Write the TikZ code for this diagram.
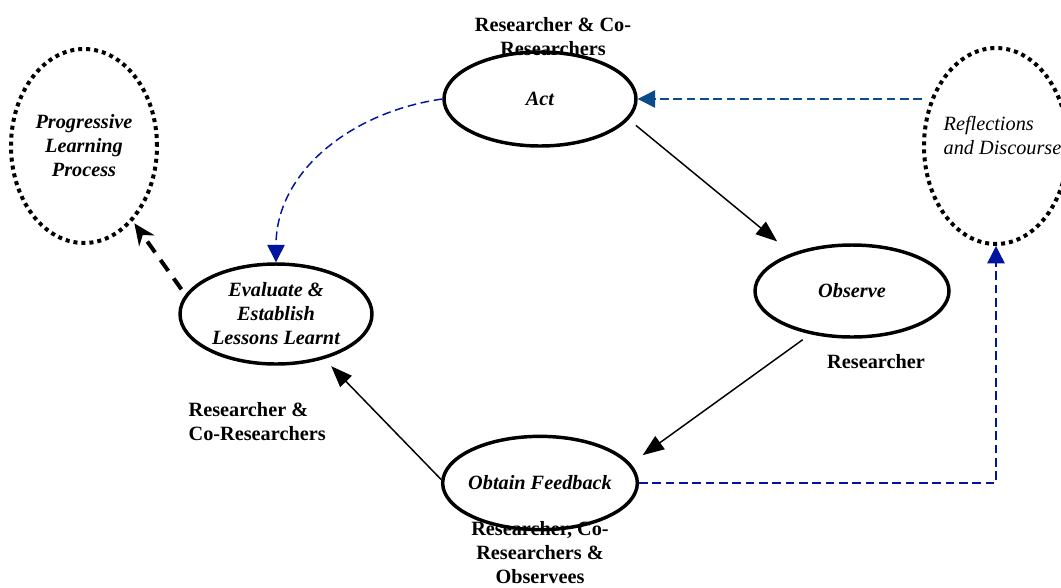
\documentclass[tikz,border=0pt]{standalone}
\usepackage{fontspec}
\setmainfont{Liberation Serif}
\usetikzlibrary{shapes.geometric,arrows.meta}
\definecolor{linkblue}{RGB}{0,20,160}
\definecolor{steelblue}{RGB}{10,75,140}
\newcommand{\txtsize}[0] {\fontsize{15.2}{18}\selectfont}

\tikzset{
  stage/.style={shape=ellipse,draw=black,line width=2.6pt,inner xsep=-14pt,inner ysep=-4pt,font=\txtsize\bfseries\itshape,align=center},
  dotring/.style={shape=ellipse,draw=black,line width=3pt,dash pattern=on 3pt off 3pt,inner xsep=-14pt,inner ysep=-4pt,font=\txtsize\bfseries\itshape,align=center},
  who/.style={font=\txtsize\bfseries,align=center},
  flow/.style={-{Triangle[length=16pt,width=12pt]},line width=1.1pt},
  feed/.style={-{Triangle[length=13pt,width=13pt]},line width=1.1pt,dash pattern=on 6.5pt off 3.5pt}
}

\begin{document}
\begin{tikzpicture}[x=0.75pt,y=-0.75pt]
        \useasboundingbox (0,0) rectangle (1061,587);

        %who takes part
        \node[who] (actwho) at (553,37) {Researcher \& Co-\\Researchers};
        \node[who] (obswho) at (876,362) {Researcher};
        \node[who,align=left,anchor=west] (evalwho) at (184,422) {Researcher \&\\Co-Researchers};
        \node[who] (fbwho) at (540,553) {Researcher, Co-\\Researchers \&\\Observees};

        \node[stage,minimum width=144pt,minimum height=70.5pt] (act) at (540,99) {Act};
        \node[stage,minimum width=145.5pt,minimum height=69pt] (obs) at (852,291) {Observe};
        \node[stage,minimum width=146pt,minimum height=70pt] (fb) at (540,483) {Obtain Feedback};
        \node[stage,minimum width=144pt,minimum height=75pt] (eval) at (276,314) {Evaluate \&\\Establish\\Lessons Learnt};

        \node[dotring,minimum width=109.5pt,minimum height=145.5pt] (prog) at (84,146) {Progressive\\Learning\\Process};
        \node[dotring,minimum width=108pt,minimum height=147pt] (refl) at (996,146) {};
        \node[font=\txtsize\itshape,align=left,anchor=west] (refltxt) at (939,135) {Reflections\\and Discourse};

        %cycle
        \path[flow] (act.-13) edge[shorten <=7pt,shorten >=14pt] (obs.148);
        \path[flow] (obs.226) edge[shorten <=7pt,shorten >=11pt] (fb.12);
        \path[flow] (fb.178) edge[shorten >=7.5pt] (eval.-43);
        \path[-{Stealth[length=16pt,width=14pt]},line width=3pt,dash pattern=on 10pt off 7pt] (eval.168) edge[shorten <=5pt,shorten >=2pt] (prog.-57);

        %feedback loops
        \path[feed,linkblue] (act.west) edge[out=188,in=90] (eval.north);
        \path[feed,steelblue] (act.east -| refl.west) edge (act.east);
        \draw[feed,linkblue] (fb.east) -| (refl.south);
\end{tikzpicture}
\end{document}
